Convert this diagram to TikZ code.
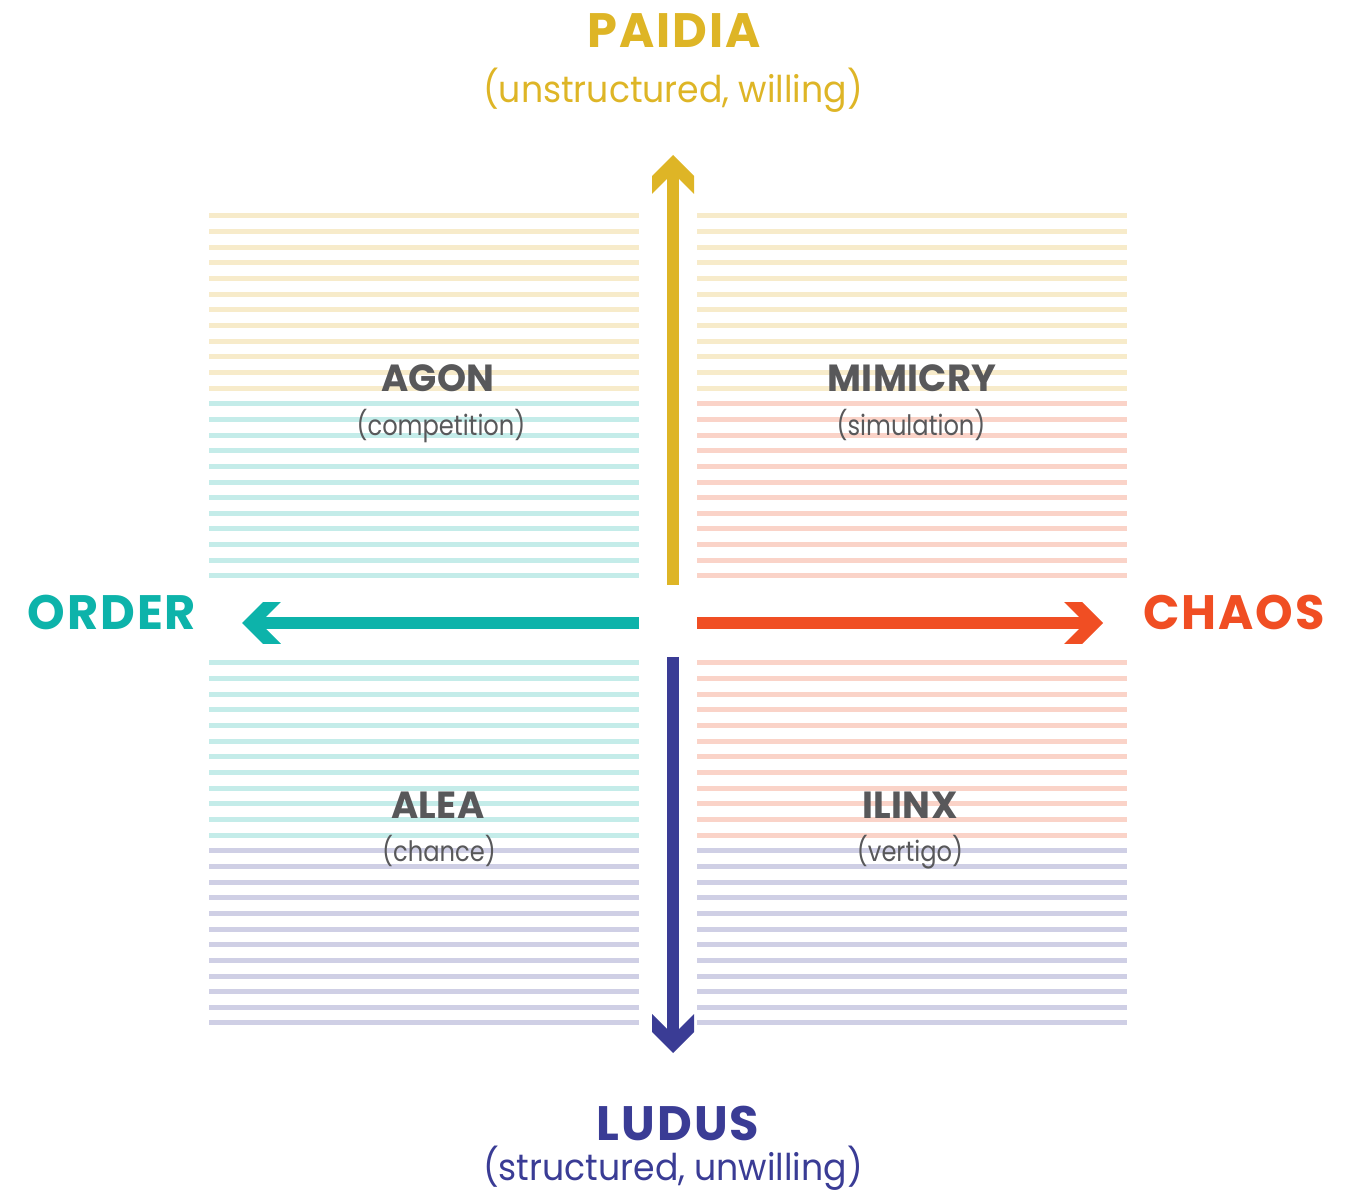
\documentclass[tikz,border=0pt]{standalone}
\usepackage{fontspec}
\setmainfont{Poppins}
\newfontfamily\headfont{Poppins}[FakeStretch=0.99, LetterSpace=4]
\newfontfamily\quadfont{Poppins}[FakeStretch=0.98, LetterSpace=1]
\newfontfamily\subfont{Poppins}[FakeStretch=0.94]
\newfontfamily\quadsubfont{Poppins}[FakeStretch=0.86]

\definecolor{paidia}{HTML}{DEB526}
\definecolor{order}{HTML}{0DB3AA}
\definecolor{chaos}{HTML}{F04E23}
\definecolor{ludus}{HTML}{3A3C95}
\definecolor{graytext}{HTML}{58585A}
\definecolor{paidialight}{HTML}{F7EBCA}
\definecolor{orderlight}{HTML}{C4ECE9}
\definecolor{chaoslight}{HTML}{FAD3C8}
\definecolor{luduslight}{HTML}{CFCFE5}

% chevron-shaped arrow head with a flat back edge
\pgfdeclarearrow{
  name = Chevron,
  setup code = {
    \pgfarrowssettipend{0pt}
    \pgfarrowssetlineend{-0.44cm}
    \pgfarrowsupperhullpoint{0pt}{0pt}
    \pgfarrowsupperhullpoint{-0.78cm}{0.42cm}
  },
  drawing code = {
    \pgfpathmoveto{\pgfpointorigin}
    \pgfpathlineto{\pgfpoint{-0.42cm}{0.42cm}}
    \pgfpathlineto{\pgfpoint{-0.78cm}{0.42cm}}
    \pgfpathlineto{\pgfpoint{-0.48cm}{0.12cm}}
    \pgfpathlineto{\pgfpoint{-0.48cm}{-0.12cm}}
    \pgfpathlineto{\pgfpoint{-0.78cm}{-0.42cm}}
    \pgfpathlineto{\pgfpoint{-0.42cm}{-0.42cm}}
    \pgfpathclose
    \pgfusepathqfill
  }
}

\tikzset{
  axis/.style={line width=0.24cm, -Chevron},
  stripe/.style={line width=0.1cm},
  poletitle/.style={font=\headfont\bfseries\fontsize{27.5}{30}\selectfont, anchor=base, inner sep=0pt},
  polesub/.style={font=\subfont\fontsize{21}{24}\selectfont, anchor=base, inner sep=0pt},
  quadtitle/.style={font=\quadfont\bfseries\fontsize{21.5}{24}\selectfont, text=graytext, anchor=base, inner sep=0pt},
  quadsub/.style={font=\quadsubfont\fontsize{16}{19}\selectfont, text=graytext, anchor=base, inner sep=0pt},
}

\begin{document}
\begin{tikzpicture}[x=0.02cm, y=-0.02cm]
\useasboundingbox (0,0) rectangle (1359,1195);

% striped quadrant fields
\foreach \i in {0,...,11} {
  \draw[stripe, paidialight] (209,{216+15.65*\i}) -- (639,{216+15.65*\i});
  \draw[stripe, paidialight] (697,{216+15.65*\i}) -- (1127,{216+15.65*\i});
  \draw[stripe, orderlight]  (209,{403.8+15.65*\i}) -- (639,{403.8+15.65*\i});
  \draw[stripe, chaoslight]  (697,{403.8+15.65*\i}) -- (1127,{403.8+15.65*\i});
  \draw[stripe, orderlight]  (209,{663+15.65*\i}) -- (639,{663+15.65*\i});
  \draw[stripe, chaoslight]  (697,{663+15.65*\i}) -- (1127,{663+15.65*\i});
  \draw[stripe, luduslight]  (209,{850.8+15.65*\i}) -- (639,{850.8+15.65*\i});
  \draw[stripe, luduslight]  (697,{850.8+15.65*\i}) -- (1127,{850.8+15.65*\i});
}

% axis end points
\coordinate (up-start)    at (673,585);
\coordinate (up-tip)      at (673,155);
\coordinate (down-start)  at (673,657);
\coordinate (down-tip)    at (673,1053);
\coordinate (left-start)  at (639,623);
\coordinate (left-tip)    at (242,623);
\coordinate (right-start) at (697,623);
\coordinate (right-tip)   at (1103,623);

\draw[axis, paidia] (up-start) -- (up-tip);
\draw[axis, ludus]  (down-start) -- (down-tip);
\draw[axis, order]  (left-start) -- (left-tip);
\draw[axis, chaos]  (right-start) -- (right-tip);

% pole labels
\node[poletitle, text=paidia] (paidia) at (674,48) {PAIDIA};
\node[polesub, text=paidia] (paidia-sub) at (673,103) {(unstructured, willing)};
\node[poletitle, text=order] (order) at (112,630) {ORDER};
\node[poletitle, text=chaos] (chaos) at (1234,630) {CHAOS};
\node[poletitle, text=ludus] (ludus) at (678,1140) {LUDUS};
\node[polesub, text=ludus] (ludus-sub) at (673,1180) {(structured, unwilling)};

% quadrant labels
\node[quadtitle] (agon) at (438,392) {AGON};
\node[quadsub] (agon-sub) at (441,436) {(competition)};
\node[quadtitle] (mimicry) at (912,392) {MIMICRY};
\node[quadsub] (mimicry-sub) at (911,436) {(simulation)};
\node[quadtitle] (alea) at (438,818) {ALEA};
\node[quadsub] (alea-sub) at (439,861) {(chance)};
\node[quadtitle] (ilinx) at (910,818) {ILINX};
\node[quadsub] (ilinx-sub) at (910,861) {(vertigo)};
\end{tikzpicture}
\end{document}
